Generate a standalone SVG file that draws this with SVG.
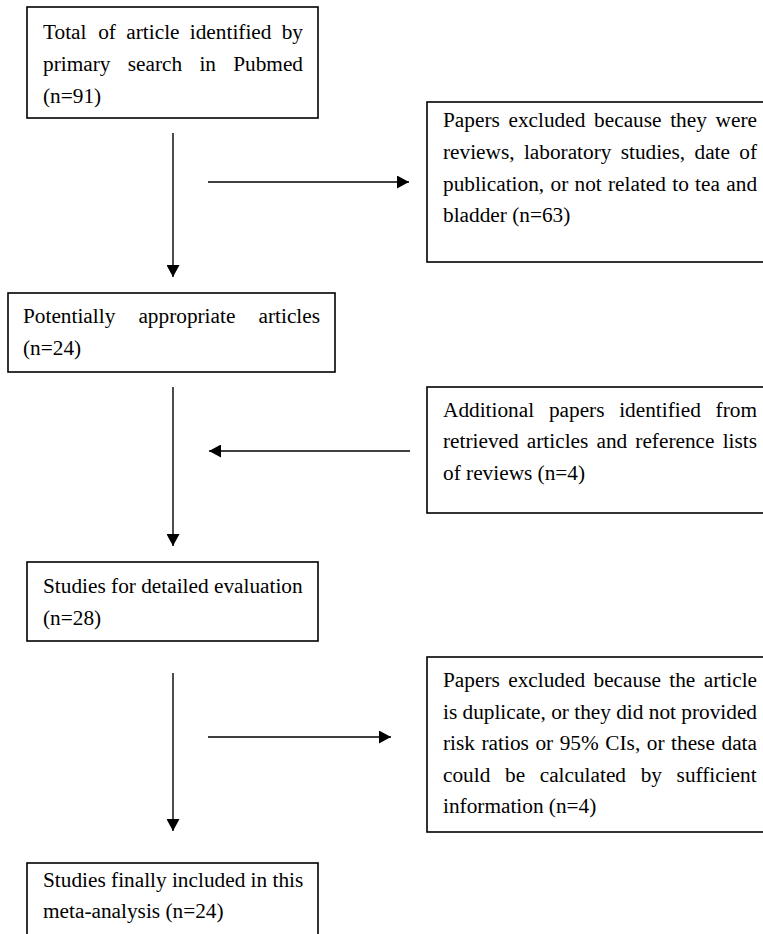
<svg xmlns="http://www.w3.org/2000/svg" width="763" height="934" viewBox="0 0 763 934">
<style>
.box{fill:#fff;stroke:#000;stroke-width:1.6}
.t{font-family:"Liberation Serif","Times New Roman",serif;font-size:21.3px;fill:#000}
.c{stroke:#000;stroke-width:1.4;fill:none}
</style>
<defs>
<marker id="ah" markerUnits="userSpaceOnUse" markerWidth="13" markerHeight="13" refX="12" refY="6.5" orient="auto">
<path d="M0,0 L12,6.5 L0,13 z" fill="#000"/>
</marker>
</defs>
<rect width="763" height="934" fill="#fff"/>
<g id="connectors">
<line class="c" x1="173" y1="133" x2="173" y2="277" marker-end="url(#ah)"/>
<line class="c" x1="208" y1="182" x2="409" y2="182" marker-end="url(#ah)"/>
<line class="c" x1="173" y1="387" x2="173" y2="546" marker-end="url(#ah)"/>
<line class="c" x1="410" y1="451" x2="209" y2="451" marker-end="url(#ah)"/>
<line class="c" x1="173" y1="673" x2="173" y2="831" marker-end="url(#ah)"/>
<line class="c" x1="208" y1="737" x2="391" y2="737" marker-end="url(#ah)"/>
</g>
<g id="n1">
<rect class="box" x="27" y="7" width="291" height="111"/>
<text class="t" y="39"><tspan x="43">Total</tspan><tspan x="98.2">of</tspan><tspan x="126.3">article</tspan><tspan x="189.8">identified</tspan><tspan x="281.7">by</tspan></text>
<text class="t" y="71"><tspan x="43">primary</tspan><tspan x="127.7">search</tspan><tspan x="199.4">in</tspan><tspan x="233.2">Pubmed</tspan></text>
<text class="t" x="43" y="103">(n=91)</text>
</g>
<g id="n2">
<rect class="box" x="427" y="102" width="345" height="160"/>
<text class="t" y="127"><tspan x="443">Papers</tspan><tspan x="508.5">excluded</tspan><tspan x="594.1">because</tspan><tspan x="670.2">they</tspan><tspan x="715.6">were</tspan></text>
<text class="t" y="159"><tspan x="443">reviews,</tspan><tspan x="523.9">laboratory</tspan><tspan x="620.7">studies,</tspan><tspan x="694.5">date</tspan><tspan x="739.3">of</tspan></text>
<text class="t" y="191"><tspan x="443">publication,</tspan><tspan x="550.5">or</tspan><tspan x="574.5">not</tspan><tspan x="608">related</tspan><tspan x="672.3">to</tspan><tspan x="695.1">tea</tspan><tspan x="726.3">and</tspan></text>
<text class="t" x="443" y="222">bladder (n=63)</text>
</g>
<g id="n3">
<rect class="box" x="8" y="293" width="327" height="79"/>
<text class="t" y="323"><tspan x="23">Potentially</tspan><tspan x="138.4">appropriate</tspan><tspan x="258.5">articles</tspan></text>
<text class="t" x="23" y="355">(n=24)</text>
</g>
<g id="n4">
<rect class="box" x="427" y="387" width="345" height="126"/>
<text class="t" y="417"><tspan x="443">Additional</tspan><tspan x="548.9">papers</tspan><tspan x="619.2">identified</tspan><tspan x="715.6">from</tspan></text>
<text class="t" y="448"><tspan x="443">retrieved</tspan><tspan x="526.8">articles</tspan><tspan x="596.5">and</tspan><tspan x="635.3">reference</tspan><tspan x="722.7">lists</tspan></text>
<text class="t" x="443" y="480">of reviews (n=4)</text>
</g>
<g id="n5">
<rect class="box" x="27" y="562" width="291" height="79"/>
<text class="t" x="43" y="593">Studies for detailed evaluation</text>
<text class="t" x="43" y="625">(n=28)</text>
</g>
<g id="n6">
<rect class="box" x="427" y="657" width="345" height="175"/>
<text class="t" y="687"><tspan x="443">Papers</tspan><tspan x="508.2">excluded</tspan><tspan x="593.5">because</tspan><tspan x="669.3">the</tspan><tspan x="703.8">article</tspan></text>
<text class="t" y="718.5"><tspan x="443">is</tspan><tspan x="462.5">duplicate,</tspan><tspan x="551.2">or</tspan><tspan x="574.3">they</tspan><tspan x="616.2">did</tspan><tspan x="648.8">not</tspan><tspan x="681.3">provided</tspan></text>
<text class="t" y="750"><tspan x="443">risk</tspan><tspan x="481.5">ratios</tspan><tspan x="535.4">or</tspan><tspan x="559.7">95%</tspan><tspan x="605.3">CIs,</tspan><tspan x="646.8">or</tspan><tspan x="671.1">these</tspan><tspan x="721.5">data</tspan></text>
<text class="t" y="781.5"><tspan x="443">could</tspan><tspan x="505">be</tspan><tspan x="539.7">calculated</tspan><tspan x="640.7">by</tspan><tspan x="676.6">sufficient</tspan></text>
<text class="t" x="443" y="813">information (n=4)</text>
</g>
<g id="n7">
<rect class="box" x="27" y="863" width="291" height="90"/>
<text class="t" x="43" y="887">Studies finally included in this</text>
<text class="t" x="43" y="918">meta-analysis (n=24)</text>
</g>
</svg>
